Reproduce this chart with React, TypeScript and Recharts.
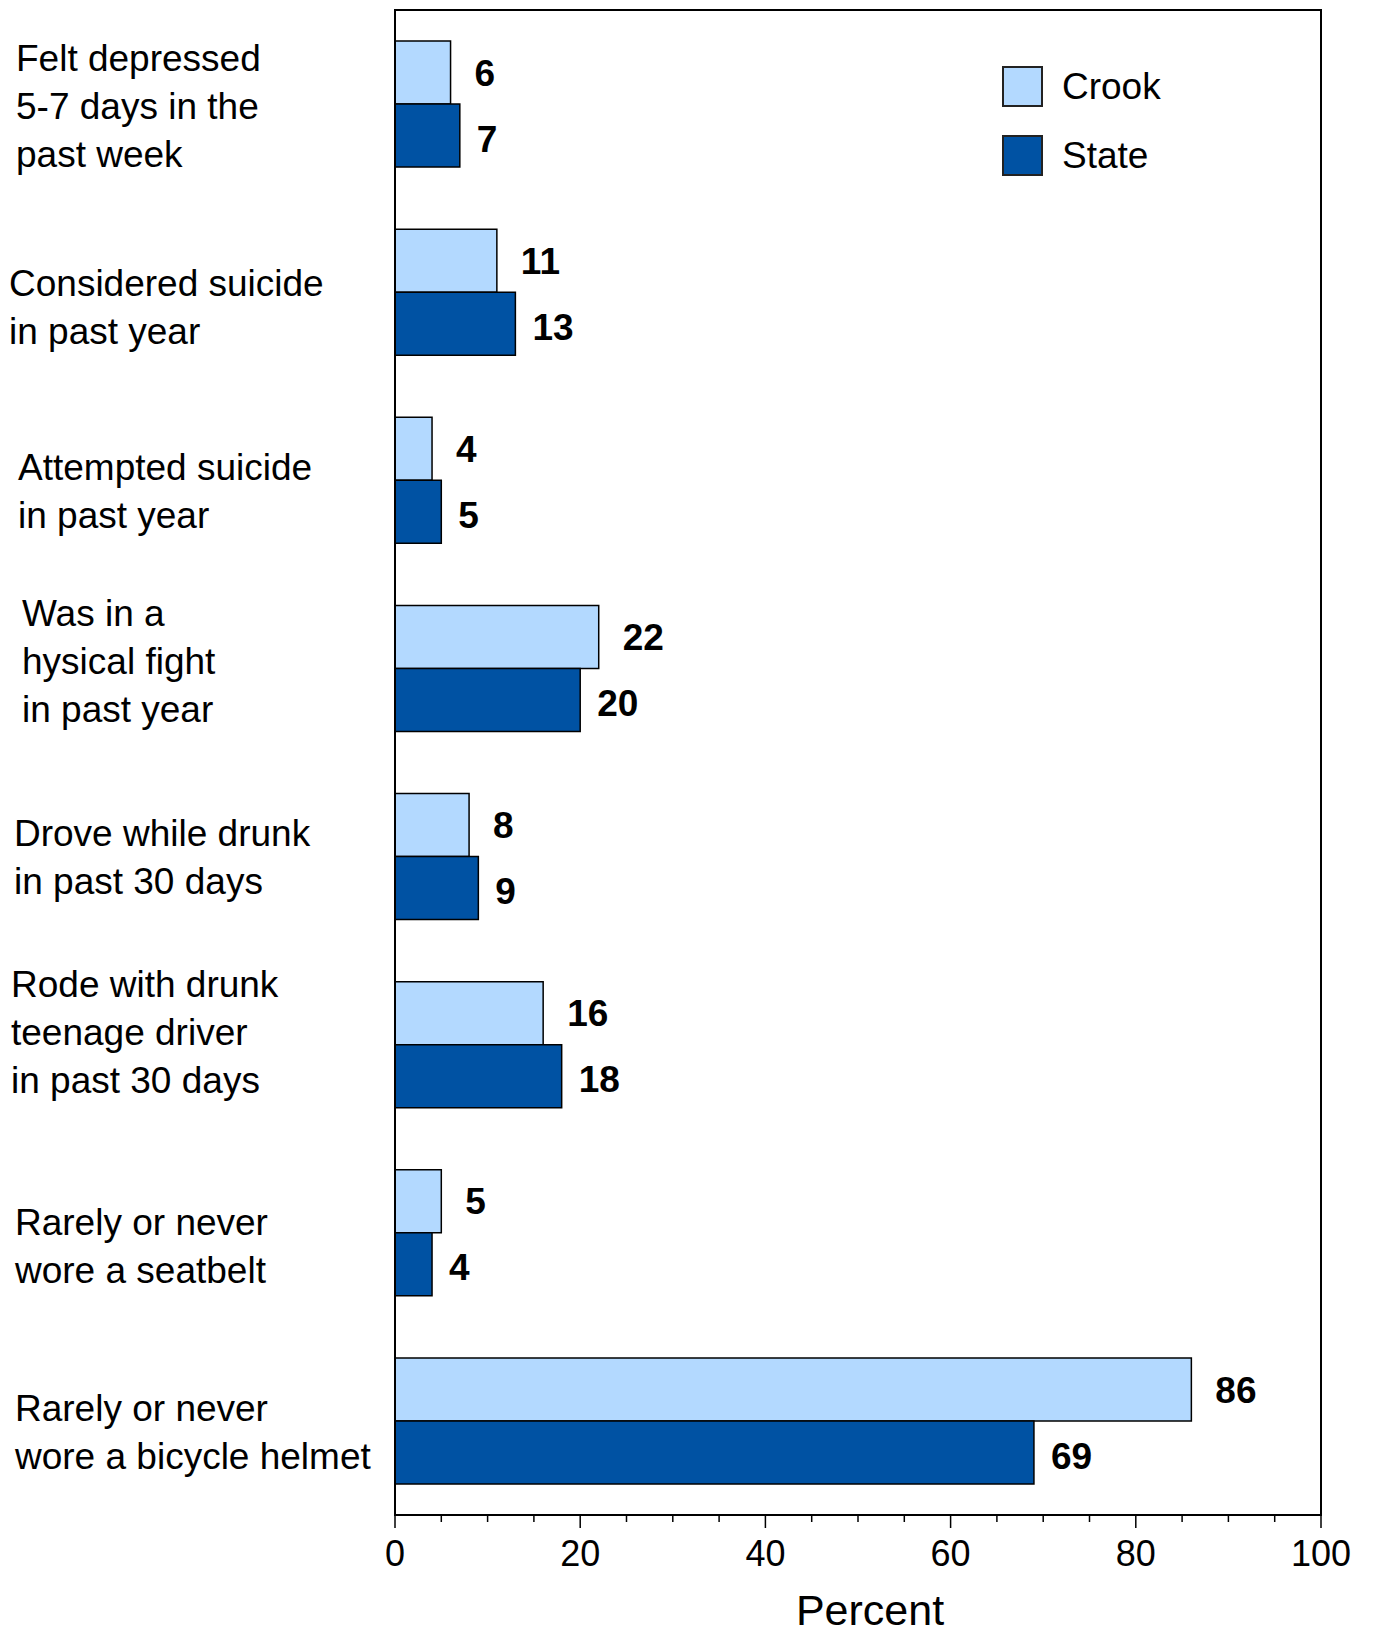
import React from 'react';
import {
  BarChart,
  Bar,
  XAxis,
  YAxis,
  LabelList,
  Legend,
  ReferenceArea,
} from 'recharts';

// Crook vs State, risk behaviours (percent)
const categories = [
  'Felt depressed\n5-7 days in the\npast week',
  'Considered suicide\nin past year',
  'Attempted suicide\nin past year',
  'Was in a\nhysical fight\nin past year',
  'Drove while drunk\nin past 30 days',
  'Rode with drunk\nteenage driver\nin past 30 days',
  'Rarely or never\nwore a seatbelt',
  'Rarely or never\nwore a bicycle helmet',
];
const crook = [6, 11, 4, 22, 8, 16, 5, 86];
const state = [7, 13, 5, 20, 9, 18, 4, 69];
const xTicks = [0, 5, 10, 15, 20, 25, 30, 35, 40, 45, 50, 55, 60, 65, 70, 75, 80, 85, 90, 95, 100];
const xLabelled = [0, 20, 40, 60, 80, 100];

// the original labels are not aligned on a common grid; small nudges [dx, dy]
const labelShift = [
  [2, 2],
  [-5, 14],
  [4, 10],
  [8, -8],
  [0, 0],
  [-3, -13],
  [1, 13],
  [1, 11],
];

const FONT = '"Liberation Sans", Arial, sans-serif';
const CROOK_COLOR = '#B3D9FF';
const STATE_COLOR = '#0052A3';

const data = categories.map((label, i) => ({
  label,
  crook: crook[i],
  state: state[i],
}));

function CategoryTick(props: any) {
  const { y, payload, index } = props;
  const lines = String(payload.value).split('\n');
  const [dx, dy] = labelShift[index] || [0, 0];
  const lineH = 48;
  const x0 = 14 + dx;
  const y0 = y + dy - ((lines.length - 1) * lineH) / 2;
  return (
    <text x={x0} y={y0} fontSize={37} fontFamily={FONT} fill="#000" textAnchor="start">
      {lines.map((ln, i) => (
        <tspan key={i} x={x0} y={y0 + i * lineH} dy="0.36em">
          {ln}
        </tspan>
      ))}
    </text>
  );
}

function PercentTick(props: any) {
  const { x, y, payload } = props;
  const major = xLabelled.includes(payload.value);
  return (
    <g>
      <line x1={x} x2={x} y1={y} y2={y + (major ? 13 : 7)} stroke="#000" strokeWidth={1.5} />
      {major && (
        <text x={x} y={y + 51} fontSize={36} fontFamily={FONT} fill="#000" textAnchor="middle">
          {payload.value}
        </text>
      )}
    </g>
  );
}

function LegendBox(props: any) {
  const items = props.payload || [];
  return (
    <div style={{ fontFamily: FONT }}>
      {items.map((it: any, i: number) => (
        <div key={i} style={{ display: 'flex', alignItems: 'center', height: 69 }}>
          <div
            style={{
              width: 37,
              height: 37,
              background: it.color,
              border: '2px solid #222',
            }}
          />
          <span style={{ marginLeft: 19, fontSize: 37, color: '#000' }}>{it.value}</span>
        </div>
      ))}
    </div>
  );
}

export default function App() {
  return (
    <div style={{ position: 'absolute', left: 0, top: 0, background: '#fff' }}>
      <BarChart
        width={1373}
        height={1627}
        data={data}
        layout="vertical"
        margin={{ top: 10, right: 52, left: 10, bottom: 0 }}
        barGap={0}
        barSize={63}
      >
        <XAxis
          type="number"
          domain={[0, 100]}
          ticks={xTicks}
          interval={0}
          tickLine={false}
          tickSize={0}
          tickMargin={0}
          tick={<PercentTick />}
          axisLine={{ stroke: '#000', strokeWidth: 2 }}
          height={112}
          label={{
            value: 'Percent',
            position: 'insideBottom',
            offset: 2,
            dx: 12,
            fontSize: 43,
            fontFamily: FONT,
            fill: '#000',
          }}
        />
        <YAxis
          type="category"
          dataKey="label"
          width={385}
          tickLine={false}
          interval={0}
          tick={<CategoryTick />}
          axisLine={{ stroke: '#000', strokeWidth: 2 }}
        />
        <Legend
          layout="vertical"
          align="center"
          verticalAlign="middle"
          content={<LegendBox />}
          wrapperStyle={{ left: 1002, top: 52, width: 220 }}
        />
        <Bar
          dataKey="crook"
          name="Crook"
          fill={CROOK_COLOR}
          stroke="#000"
          strokeWidth={1.5}
          isAnimationActive={false}
        >
          <LabelList
            dataKey="crook"
            position="right"
            offset={24}
            fill="#000"
            fontSize={37}
            fontWeight="bold"
            fontFamily={FONT}
          />
        </Bar>
        <Bar
          dataKey="state"
          name="State"
          fill={STATE_COLOR}
          stroke="#000"
          strokeWidth={1.5}
          isAnimationActive={false}
        >
          <LabelList
            dataKey="state"
            position="right"
            offset={17}
            dy={3}
            fill="#000"
            fontSize={37}
            fontWeight="bold"
            fontFamily={FONT}
          />
        </Bar>
        <ReferenceArea x1={0} x2={100} fill="none" stroke="#000" strokeWidth={2} />
      </BarChart>
    </div>
  );
}
